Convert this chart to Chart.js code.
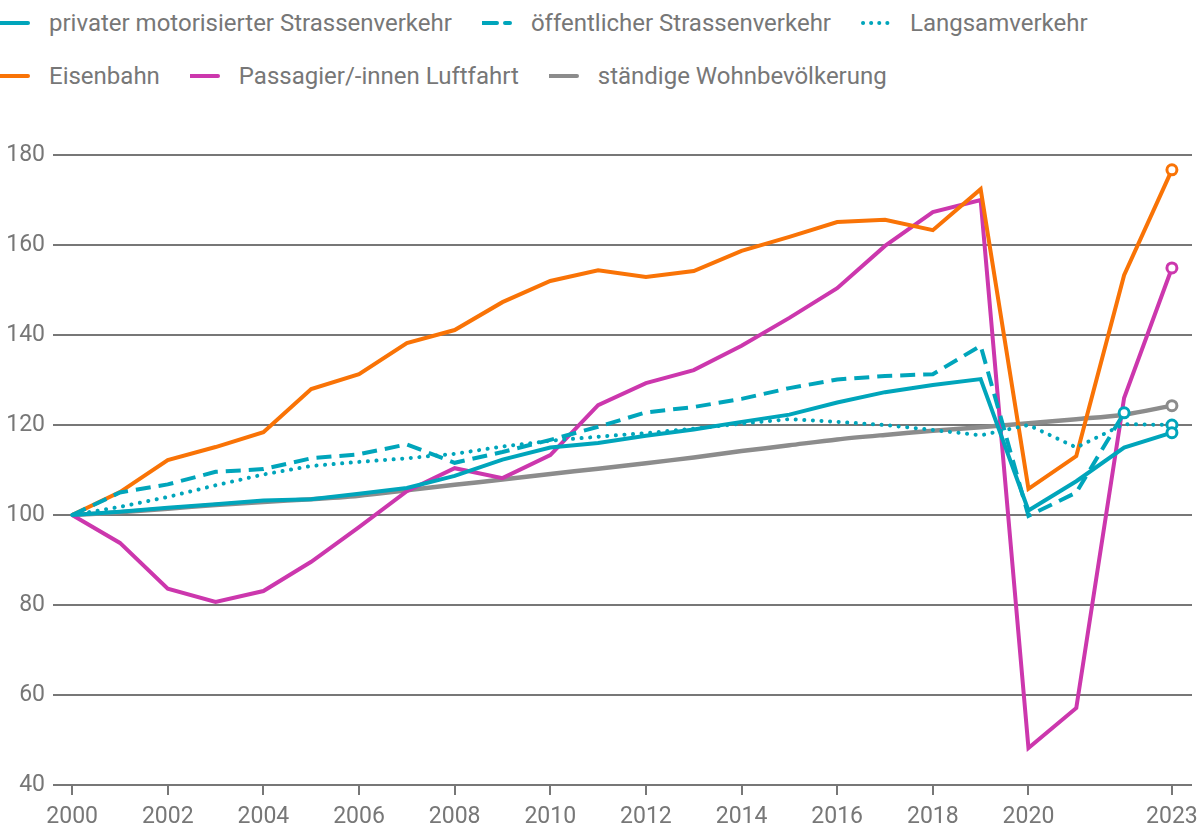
<!DOCTYPE html>
<html>
<head>
<meta charset="utf-8">
<script src="https://cdn.jsdelivr.net/npm/chart.js@4/dist/chart.umd.min.js"></script>
<style>
  html, body { margin: 0; padding: 0; background: #fff; }
  body { width: 1200px; height: 832px; position: relative; overflow: hidden; font-family: Roboto, sans-serif; }
  #legend { position: absolute; left: 0; top: 0; width: 1200px; }
  .row { position: absolute; left: 0; display: flex; align-items: center; height: 30px; }
  .item { display: flex; align-items: center; margin-right: 30px; }
  .item svg { margin-right: 19px; }
  .item span { font-size: 24px; color: #777; white-space: nowrap; }
  #wrap { position: absolute; left: 0; top: 0; width: 1200px; height: 832px; }
</style>
</head>
<body>
<div id="legend"></div>
<div id="wrap"><canvas id="mobChart"></canvas></div>
<script>
const years = [2000, 2001, 2002, 2003, 2004, 2005, 2006, 2007, 2008, 2009, 2010, 2011,
               2012, 2013, 2014, 2015, 2016, 2017, 2018, 2019, 2020, 2021, 2022, 2023];
const tickYears = [2000, 2002, 2004, 2006, 2008, 2010, 2012, 2014, 2016, 2018, 2020, 2023];

const privat = [100, 100.7, 101.6, 102.4, 103.2, 103.5, 104.7, 106.0, 108.7, 112.3, 115.0, 116.0,
                117.6, 119.0, 120.7, 122.3, 125.0, 127.3, 128.9, 130.2, 101.0, 107.5, 115.0, 118.3];
const oeffentlich = [100, 105.0, 106.8, 109.6, 110.2, 112.6, 113.5, 115.7, 111.6, 114.0, 116.7, 119.6,
                     122.8, 124.0, 125.8, 128.2, 130.1, 130.9, 131.3, 137.6, 99.8, 105.0, 122.7, null];
const langsam = [100, 101.8, 104.0, 106.6, 109.0, 110.9, 111.8, 112.6, 113.6, 115.2, 116.5, 117.4,
                 118.2, 119.2, 120.3, 121.3, 120.7, 120.0, 118.9, 117.7, 120.0, 115.0, 120.2, 120.0];
const eisenbahn = [100, 105.1, 112.2, 115.1, 118.4, 128.0, 131.3, 138.2, 141.1, 147.3, 152.0, 154.4,
                   152.9, 154.2, 158.7, 161.8, 165.1, 165.6, 163.3, 172.4, 105.8, 113.1, 153.3, 176.7];
const luftfahrt = [100, 93.8, 83.6, 80.7, 83.1, 89.6, 97.3, 105.3, 110.4, 108.2, 113.3, 124.4,
                   129.3, 132.2, 137.6, 143.8, 150.4, 159.8, 167.3, 170.0, 48.2, 57.1, 126.0, 154.9];
const bevoelkerung = [100, 100.6, 101.4, 102.2, 102.9, 103.5, 104.3, 105.5, 106.7, 107.9, 109.1, 110.3,
                      111.5, 112.8, 114.2, 115.5, 116.8, 117.8, 118.7, 119.5, 120.4, 121.3, 122.3, 124.3];

const cyan = '#00a5bb';
const orange = '#f97306';
const magenta = '#cc37ad';
const grey = '#8c8c8c';

function toPoints(values){
    return years.map((y, i) => ({x: y, y: values[i]}));
}

function lastIndex(values){
    let last = 0;
    values.forEach((v, i) => { if(v !== null) last = i; });
    return last;
}

function makeSet(label, values, color, dash, cap, legendDash){
    const last = lastIndex(values);
    return {
        label: label,
        data: toPoints(values),
        borderColor: color,
        backgroundColor: '#fff',
        borderWidth: 4,
        borderDash: dash,
        borderCapStyle: cap,
        borderJoinStyle: 'miter',
        tension: 0,
        spanGaps: false,
        pointRadius: ctx => ctx.dataIndex === last ? 5 : 0,
        pointHoverRadius: 0,
        pointBorderWidth: 3,
        pointBorderColor: color,
        pointBackgroundColor: '#fff',
        legendDash: legendDash
    };
}

const datasets = [
    makeSet('privater motorisierter Strassenverkehr', privat, cyan, [], 'butt', ''),
    makeSet('öffentlicher Strassenverkehr', oeffentlich, cyan, [15, 8], 'butt', '15 8 5 20'),
    makeSet('Langsamverkehr', langsam, cyan, [0.1, 8.5], 'round', 'dots'),
    makeSet('Eisenbahn', eisenbahn, orange, [], 'butt', ''),
    makeSet('Passagier/-innen Luftfahrt', luftfahrt, magenta, [], 'butt', ''),
    makeSet('ständige Wohnbevölkerung', bevoelkerung, grey, [], 'butt', '')
];
datasets[5].borderWidth = 4.5;
datasets[5].tension = 0.3;

// html legend, two rows like the original
const legendRows = [[0, 1, 2], [3, 4, 5]];
const legendTop = [8, 61];
const legendEl = document.getElementById('legend');
legendRows.forEach((row, r) => {
    const rowEl = document.createElement('div');
    rowEl.className = 'row';
    rowEl.style.top = legendTop[r] + 'px';
    row.forEach(idx => {
        const ds = datasets[idx];
        const item = document.createElement('div');
        item.className = 'item';
        let line;
        if(ds.legendDash === 'dots'){
            line = '<line x1="2" y1="5" x2="28" y2="5" stroke="' + ds.borderColor +
                   '" stroke-width="4" stroke-linecap="round" stroke-dasharray="0.1 8"/>';
        } else {
            line = '<line x1="0" y1="5" x2="28" y2="5" stroke="' + ds.borderColor +
                   '" stroke-width="4" stroke-linecap="round"' +
                   (ds.legendDash ? ' stroke-dasharray="' + ds.legendDash + '"' : '') + '/>';
        }
        item.innerHTML = '<svg width="30" height="10">' + line + '</svg><span>' + ds.label + '</span>';
        rowEl.appendChild(item);
    });
    legendEl.appendChild(rowEl);
});

const ctx = document.getElementById('mobChart');
new Chart(ctx, {
    type: 'line',
    data: { datasets: datasets },
    options: {
        responsive: true,
        maintainAspectRatio: false,
        animation: false,
        events: [],
        layout: { padding: { top: 155, right: 8, left: 0, bottom: 0 } },
        plugins: {
            legend: { display: false },
            tooltip: { enabled: false }
        },
        scales: {
            x: {
                type: 'linear',
                min: 1999.6,
                max: 2023.42,
                afterBuildTicks: scale => {
                    scale.ticks = tickYears.map(v => ({value: v}));
                },
                afterFit: scale => {
                    scale.height = 47;
                    scale.paddingLeft = 0;
                    scale.paddingRight = 0;
                },
                border: { display: false },
                grid: {
                    drawOnChartArea: false,
                    drawTicks: true,
                    tickLength: 10,
                    color: '#777',
                    lineWidth: 2
                },
                ticks: {
                    autoSkip: false,
                    maxRotation: 0,
                    padding: 8,
                    color: '#777',
                    font: { family: 'Roboto', size: 23 },
                    callback: v => String(v)
                }
            },
            y: {
                min: 40,
                max: 180,
                afterFit: scale => { scale.width = 53; },
                border: { display: false },
                grid: {
                    drawTicks: false,
                    color: '#777',
                    lineWidth: 2
                },
                ticks: {
                    stepSize: 20,
                    padding: 8,
                    color: '#777',
                    font: { family: 'Roboto', size: 23 }
                }
            }
        }
    }
});
</script>
</body>
</html>
